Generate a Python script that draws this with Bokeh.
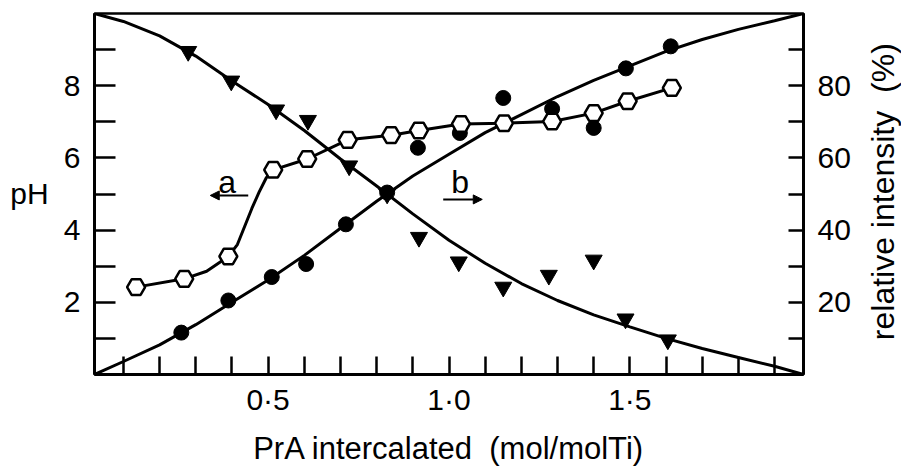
from bokeh.plotting import figure
from bokeh.layouts import row
from bokeh.models import Range1d, LinearAxis, FixedTicker, Label, Arrow, NormalHead
from bokeh.embed import file_html
from bokeh.resources import INLINE

# Curve a: pH of the suspension (left axis)
ph_x = [0.135, 0.268, 0.39, 0.514, 0.608, 0.72, 0.84, 0.917, 1.033, 1.152, 1.285, 1.40, 1.494, 1.616]
ph_y = [2.42, 2.65, 3.27, 5.67, 5.97, 6.50, 6.63, 6.76, 6.94, 6.96, 7.01, 7.24, 7.57, 7.94]

# smooth line drawn through the pH points
ph_line_x = [0.135, 0.268, 0.33, 0.39, 0.415, 0.435, 0.455, 0.475, 0.495, 0.514,
             0.608, 0.72, 0.84, 0.917, 1.033, 1.152, 1.285, 1.40, 1.494, 1.616]
ph_line_y = [2.42, 2.65, 2.86, 3.27, 3.60, 4.10, 4.60, 5.05, 5.45, 5.67,
             5.97, 6.50, 6.63, 6.76, 6.94, 6.96, 7.01, 7.24, 7.57, 7.94]

# Curve b: relative intensities (%) of the two bands (right axis)
rise_x = [0.26, 0.39, 0.51, 0.605, 0.715, 0.829, 0.914, 1.03, 1.15, 1.285, 1.40, 1.489, 1.613]
rise_y = [11.6, 20.5, 27.0, 30.6, 41.6, 50.4, 62.8, 66.9, 76.6, 73.6, 68.3, 84.8, 90.9]

fall_x = [0.279, 0.398, 0.522, 0.61, 0.724, 0.829, 0.917, 1.027, 1.15, 1.276, 1.40, 1.488, 1.605]
fall_y = [89.5, 81.3, 73.3, 70.4, 57.8, 50.0, 38.0, 31.2, 24.2, 27.5, 31.7, 15.4, 9.6]

# fitted intensity curves
fit_x = [0.02, 0.1, 0.2, 0.3, 0.4, 0.5, 0.6, 0.7, 0.8, 0.9, 1.0,
         1.1, 1.2, 1.3, 1.4, 1.5, 1.6, 1.7, 1.8, 1.9, 1.98]
fit_rise = [0, 3.6, 8.2, 13.8, 20.0, 26.2, 33.0, 40.5, 48.0, 55.0, 61.0,
            67.0, 72.0, 77.0, 81.5, 85.5, 89.5, 92.8, 95.6, 98.0, 100]
fit_fall = [100, 97.8, 93.8, 88.2, 81.3, 74.8, 67.6, 59.7, 52.2, 44.5, 37.2,
            30.8, 25.2, 20.5, 16.5, 13.2, 10.0, 7.2, 4.7, 2.3, 0]

# axis ticks
x_major = [0.5, 1.0, 1.5]
x_minor = [0.1, 0.2, 0.3, 0.4, 0.6, 0.7, 0.8, 0.9, 1.1, 1.2, 1.3, 1.4, 1.6, 1.7, 1.8, 1.9]
x_labels = ["0·5", "1·0", "1·5"]
ph_major = [2, 4, 6, 8]
ph_minor = [1, 3, 5, 7, 9]
int_major = [20, 40, 60, 80]
int_minor = [10, 30, 50, 70, 90]

FONT = "Liberation Sans"
INK = "black"
H = 468
LEFT_W, RIGHT_W = 55, 43
MAIN_W = 901 - LEFT_W - RIGHT_W

p = figure(width=MAIN_W, height=H, x_range=Range1d(0.02, 1.98), y_range=Range1d(0, 10),
           output_backend="svg", toolbar_location=None,
           min_border=0, min_border_left=94 - LEFT_W, min_border_right=MAIN_W + LEFT_W - 803,
           min_border_top=13, min_border_bottom=90)
p.extra_y_ranges = {"intensity": Range1d(0, 100)}
p.add_layout(LinearAxis(y_range_name="intensity"), "right")

p.grid.visible = False
p.outline_line_color = INK
p.outline_line_width = 2.5
p.background_fill_color = "white"
p.border_fill_color = "white"


def style_axis(ax, major, minor, tick_len, standoff):
    ax.ticker = FixedTicker(ticks=major, minor_ticks=minor)
    ax.major_tick_in = tick_len
    ax.major_tick_out = 0
    ax.minor_tick_in = tick_len
    ax.minor_tick_out = 0
    ax.major_tick_line_width = 2.5
    ax.minor_tick_line_width = 2.5
    ax.major_tick_line_color = INK
    ax.minor_tick_line_color = INK
    ax.axis_line_width = 3
    ax.axis_line_color = INK
    ax.major_label_text_font = FONT
    ax.major_label_text_font_size = "30px"
    ax.major_label_text_color = INK
    ax.major_label_standoff = standoff


xa = p.xaxis[0]
style_axis(xa, x_major, x_minor, 18, 8)
xa.major_label_overrides = dict(zip(x_major, x_labels))
xa.axis_label = "PrA intercalated\u00a0 (mol/molTi)"
xa.axis_label_text_font = FONT
xa.axis_label_text_font_size = "31px"
xa.axis_label_text_font_style = "normal"
xa.axis_label_text_color = INK
xa.axis_label_standoff = 12
style_axis(p.yaxis[0], ph_major, ph_minor, 21, 14)
style_axis(p.yaxis[1], int_major, int_minor, 15, 14)

# fitted curves and the pH curve
p.line(fit_x, fit_rise, y_range_name="intensity", line_color=INK, line_width=3)
p.line(fit_x, fit_fall, y_range_name="intensity", line_color=INK, line_width=3)
p.line(ph_line_x, ph_line_y, line_color=INK, line_width=3)

# data points
p.scatter(rise_x, rise_y, y_range_name="intensity", marker="circle", size=15,
          fill_color=INK, line_color=INK)
p.scatter(fall_x, fall_y, y_range_name="intensity", marker="inverted_triangle", size=17,
          fill_color=INK, line_color=INK)
p.scatter(ph_x, ph_y, marker="hex", size=18, fill_color="white", line_color=INK,
          line_width=2.5)

# curve markers a / b with direction arrows
p.add_layout(Label(x=0.387, y=5.32, text="a", text_align="center", text_baseline="alphabetic",
                   text_font=FONT, text_font_size="32px", text_color=INK))
p.add_layout(Arrow(x_start=0.445, y_start=4.96, x_end=0.34, y_end=4.96, line_width=2,
                   line_color=INK, end=NormalHead(size=9, fill_color=INK, line_color=INK)))
p.add_layout(Label(x=1.031, y=5.32, text="b", text_align="center", text_baseline="alphabetic",
                   text_font=FONT, text_font_size="32px", text_color=INK))
p.add_layout(Arrow(x_start=0.984, y_start=4.85, x_end=1.092, y_end=4.85, line_width=2,
                   line_color=INK, end=NormalHead(size=9, fill_color=INK, line_color=INK)))


def title_strip(width):
    """Narrow axis-less panel holding a side title; its ranges are in pixels."""
    f = figure(width=width, height=H, x_range=Range1d(0, width), y_range=Range1d(0, H),
               output_backend="svg", toolbar_location=None, min_border=0,
               x_axis_location=None, y_axis_location=None)
    f.grid.visible = False
    f.outline_line_color = None
    f.background_fill_color = "white"
    f.border_fill_color = "white"
    return f


# vertical centre of the side titles, measured from the top of the page
TITLE_MID = 231

# pH title, centred on its own text box
left = title_strip(LEFT_W)
left.add_layout(Label(x=29, y=H - TITLE_MID - 2, text="pH", text_align="center",
                      text_baseline="middle", text_font=FONT, text_font_size="30px",
                      text_color=INK))

# right-hand title, reading upwards
right = title_strip(RIGHT_W)
right.add_layout(Label(x=882 - LEFT_W - MAIN_W, y=H - TITLE_MID, text="relative intensity\u00a0 (%)",
                       angle=90, angle_units="deg", text_align="center",
                       text_baseline="middle", text_font=FONT, text_font_size="32px",
                       text_color=INK))

layout = row(left, p, right, spacing=0)
open("out.html", "w").write(file_html(layout, INLINE))
